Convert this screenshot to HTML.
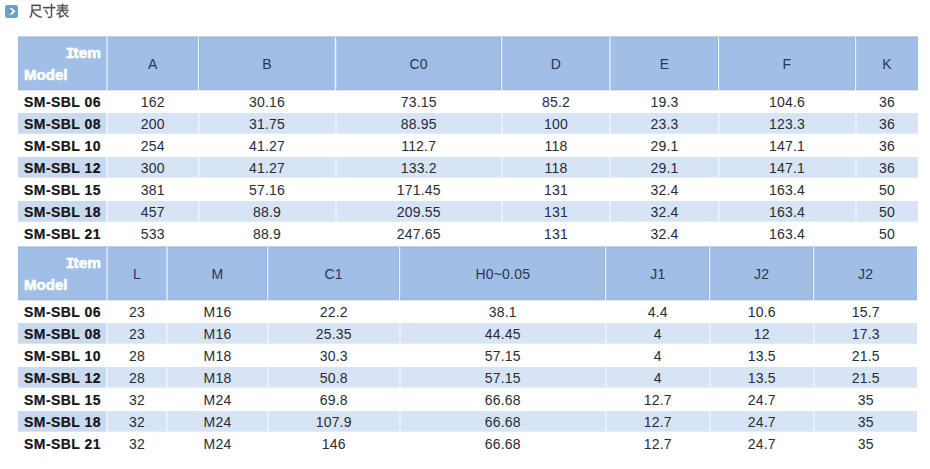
<!DOCTYPE html><html><head><meta charset="utf-8"><title>尺寸表</title><style>
*{margin:0;padding:0;box-sizing:border-box}
html,body{width:930px;height:469px;background:#fff;overflow:hidden}
body{position:relative;font-family:"Liberation Sans",sans-serif;font-size:14px;color:#272c35;letter-spacing:.2px}
.b{position:absolute}
.t{position:absolute;white-space:nowrap;line-height:16px;height:16px}
.c{width:120px;margin-left:-60px;text-align:center}
.m{font-weight:bold;color:#151515;letter-spacing:.45px;-webkit-text-stroke:.2px #151515}
.h{color:#2b3650}
.w{font-weight:bold;color:#fff;-webkit-text-stroke:.5px #fff}
.w i{font-style:normal;font-family:"Liberation Mono",monospace;margin:0 -1.1px 0 -1.2px}
</style></head><body>
<svg class="b" style="left:5px;top:5px" width="13" height="13" viewBox="0 0 13 13"><rect x="0" y="0" width="13" height="13" rx="2.2" fill="#6fa1c4"/><path d="M4.6 3.3h2.4l3.4 3.05-3.4 3.05H4.6l3-3.05z" fill="#fff"/><path d="M4.6 4.3l2.1 2.05-2.1 2.05z" fill="#4f6f88" opacity=".6"/></svg>
<svg class="b" role="img" aria-label="尺寸表" style="left:0;top:0" width="80" height="24" viewBox="0 0 80 24"><g fill="#4f4f4f" stroke="#4f4f4f" stroke-width="26" transform="translate(29.10 16.72) scale(0.01340 -0.01540)"><path transform="translate(0 0)" d="M182 776V500C182 338 170 122 37 -30C54 -39 86 -67 99 -83C201 34 240 194 254 340C390 122 612 -18 913 -74C924 -53 945 -21 962 -3C654 47 424 188 303 401H855V776ZM261 702H777V473H261V499Z"/><path transform="translate(1000 0)" d="M167 414C241 337 319 230 350 159L418 202C385 274 304 378 230 453ZM634 840V627H52V553H634V32C634 8 626 1 602 0C575 0 488 -1 395 2C408 -21 424 -58 429 -82C537 -82 614 -80 655 -67C697 -54 713 -30 713 32V553H949V627H713V840Z"/><path transform="translate(2000 0)" d="M252 -79C275 -64 312 -51 591 38C587 54 581 83 579 104L335 31V251C395 292 449 337 492 385C570 175 710 23 917 -46C928 -26 950 3 967 19C868 48 783 97 714 162C777 201 850 253 908 302L846 346C802 303 732 249 672 207C628 259 592 319 566 385H934V450H536V539H858V601H536V686H902V751H536V840H460V751H105V686H460V601H156V539H460V450H65V385H397C302 300 160 223 36 183C52 168 74 140 86 122C142 142 201 170 258 203V55C258 15 236 -2 219 -11C231 -27 247 -61 252 -79Z"/></g></svg>
<div class="b" style="left:18px;top:36px;width:900px;height:54px;background:#a1bee6"></div>
<div class="b" style="left:18px;top:36px;width:900px;height:1px;background:#c6d2e8"></div>
<div class="b" style="left:18px;top:37px;width:900px;height:1px;background:#a5b5d8"></div>
<div class="b" style="left:18px;top:89px;width:900px;height:1px;background:#a4b4d8"></div>
<div class="b" style="left:18px;top:90px;width:900px;height:1px;background:#e0e9f6"></div>
<div class="b" style="left:18px;top:113px;width:900px;height:21px;background:#d7e4f5"></div>
<div class="b" style="left:18px;top:113px;width:88px;height:21px;background:#c9d9f0"></div>
<div class="b" style="left:18px;top:157px;width:900px;height:21px;background:#d7e4f5"></div>
<div class="b" style="left:18px;top:157px;width:88px;height:21px;background:#c9d9f0"></div>
<div class="b" style="left:18px;top:201px;width:900px;height:21px;background:#d7e4f5"></div>
<div class="b" style="left:18px;top:201px;width:88px;height:21px;background:#c9d9f0"></div>
<div class="b" style="left:106px;top:37px;width:2px;height:53px;background:#cddff6"></div>
<div class="b" style="left:106px;top:113px;width:2px;height:21px;background:#e8f0fa"></div>
<div class="b" style="left:106px;top:157px;width:2px;height:21px;background:#e8f0fa"></div>
<div class="b" style="left:106px;top:201px;width:2px;height:21px;background:#e8f0fa"></div>
<div class="b" style="left:198px;top:37px;width:1px;height:53px;background:#eef5fd"></div>
<div class="b" style="left:199px;top:38px;width:1px;height:51px;background:#9bb3da"></div>
<div class="b" style="left:198px;top:113px;width:2px;height:21px;background:#e8f0fa"></div>
<div class="b" style="left:198px;top:157px;width:2px;height:21px;background:#e8f0fa"></div>
<div class="b" style="left:198px;top:201px;width:2px;height:21px;background:#e8f0fa"></div>
<div class="b" style="left:335px;top:37px;width:1px;height:53px;background:#eef5fd"></div>
<div class="b" style="left:334px;top:38px;width:1px;height:51px;background:#b4cbee"></div>
<div class="b" style="left:336px;top:38px;width:1px;height:51px;background:#b4cbee"></div>
<div class="b" style="left:335px;top:113px;width:2px;height:21px;background:#e8f0fa"></div>
<div class="b" style="left:335px;top:157px;width:2px;height:21px;background:#e8f0fa"></div>
<div class="b" style="left:335px;top:201px;width:2px;height:21px;background:#e8f0fa"></div>
<div class="b" style="left:501px;top:37px;width:1px;height:53px;background:#eef5fd"></div>
<div class="b" style="left:500px;top:38px;width:1px;height:51px;background:#9bb3da"></div>
<div class="b" style="left:502px;top:38px;width:1px;height:51px;background:#a9c4ea"></div>
<div class="b" style="left:501px;top:113px;width:2px;height:21px;background:#e8f0fa"></div>
<div class="b" style="left:501px;top:157px;width:2px;height:21px;background:#e8f0fa"></div>
<div class="b" style="left:501px;top:201px;width:2px;height:21px;background:#e8f0fa"></div>
<div class="b" style="left:609px;top:37px;width:2px;height:53px;background:#cddff6"></div>
<div class="b" style="left:609px;top:113px;width:2px;height:21px;background:#e8f0fa"></div>
<div class="b" style="left:609px;top:157px;width:2px;height:21px;background:#e8f0fa"></div>
<div class="b" style="left:609px;top:201px;width:2px;height:21px;background:#e8f0fa"></div>
<div class="b" style="left:718px;top:37px;width:1px;height:53px;background:#eef5fd"></div>
<div class="b" style="left:717px;top:38px;width:1px;height:51px;background:#9bb3da"></div>
<div class="b" style="left:719px;top:38px;width:1px;height:51px;background:#a9c4ea"></div>
<div class="b" style="left:718px;top:113px;width:2px;height:21px;background:#e8f0fa"></div>
<div class="b" style="left:718px;top:157px;width:2px;height:21px;background:#e8f0fa"></div>
<div class="b" style="left:718px;top:201px;width:2px;height:21px;background:#e8f0fa"></div>
<div class="b" style="left:855px;top:37px;width:1px;height:53px;background:#eef5fd"></div>
<div class="b" style="left:854px;top:38px;width:1px;height:51px;background:#9bb3da"></div>
<div class="b" style="left:856px;top:38px;width:1px;height:51px;background:#a9c4ea"></div>
<div class="b" style="left:855px;top:113px;width:2px;height:21px;background:#e8f0fa"></div>
<div class="b" style="left:855px;top:157px;width:2px;height:21px;background:#e8f0fa"></div>
<div class="b" style="left:855px;top:201px;width:2px;height:21px;background:#e8f0fa"></div>
<div class="b" style="left:18px;top:133px;width:900px;height:1px;background:rgba(255,255,255,.3)"></div>
<div class="b" style="left:18px;top:177px;width:900px;height:1px;background:rgba(255,255,255,.3)"></div>
<div class="b" style="left:18px;top:221px;width:900px;height:1px;background:rgba(255,255,255,.3)"></div>
<div class="t w" style="left:21.1px;top:45px;width:80px;text-align:right;letter-spacing:0;transform:scaleX(1.10);transform-origin:100% 50%"><i>I</i>tem</div>
<div class="t w" style="left:23.5px;top:67px;letter-spacing:0;transform:scaleX(1.075);transform-origin:0 50%">Model</div>
<div class="t c h" style="left:152.7px;top:56px">A</div>
<div class="t c h" style="left:267.0px;top:56px">B</div>
<div class="t c h" style="left:418.7px;top:56px">C0</div>
<div class="t c h" style="left:556.0px;top:56px">D</div>
<div class="t c h" style="left:664.5px;top:56px">E</div>
<div class="t c h" style="left:787.0px;top:56px">F</div>
<div class="t c h" style="left:887.0px;top:56px">K</div>
<div class="t m" style="left:24px;top:94px">SM-SBL 06</div>
<div class="t c" style="left:152.7px;top:94px">162</div>
<div class="t c" style="left:267.0px;top:94px">30.16</div>
<div class="t c" style="left:418.7px;top:94px">73.15</div>
<div class="t c" style="left:556.0px;top:94px">85.2</div>
<div class="t c" style="left:664.5px;top:94px">19.3</div>
<div class="t c" style="left:787.0px;top:94px">104.6</div>
<div class="t c" style="left:887.0px;top:94px">36</div>
<div class="t m" style="left:24px;top:116px">SM-SBL 08</div>
<div class="t c" style="left:152.7px;top:116px">200</div>
<div class="t c" style="left:267.0px;top:116px">31.75</div>
<div class="t c" style="left:418.7px;top:116px">88.95</div>
<div class="t c" style="left:556.0px;top:116px">100</div>
<div class="t c" style="left:664.5px;top:116px">23.3</div>
<div class="t c" style="left:787.0px;top:116px">123.3</div>
<div class="t c" style="left:887.0px;top:116px">36</div>
<div class="t m" style="left:24px;top:138px">SM-SBL 10</div>
<div class="t c" style="left:152.7px;top:138px">254</div>
<div class="t c" style="left:267.0px;top:138px">41.27</div>
<div class="t c" style="left:418.7px;top:138px">112.7</div>
<div class="t c" style="left:556.0px;top:138px">118</div>
<div class="t c" style="left:664.5px;top:138px">29.1</div>
<div class="t c" style="left:787.0px;top:138px">147.1</div>
<div class="t c" style="left:887.0px;top:138px">36</div>
<div class="t m" style="left:24px;top:160px">SM-SBL 12</div>
<div class="t c" style="left:152.7px;top:160px">300</div>
<div class="t c" style="left:267.0px;top:160px">41.27</div>
<div class="t c" style="left:418.7px;top:160px">133.2</div>
<div class="t c" style="left:556.0px;top:160px">118</div>
<div class="t c" style="left:664.5px;top:160px">29.1</div>
<div class="t c" style="left:787.0px;top:160px">147.1</div>
<div class="t c" style="left:887.0px;top:160px">36</div>
<div class="t m" style="left:24px;top:182px">SM-SBL 15</div>
<div class="t c" style="left:152.7px;top:182px">381</div>
<div class="t c" style="left:267.0px;top:182px">57.16</div>
<div class="t c" style="left:418.7px;top:182px">171.45</div>
<div class="t c" style="left:556.0px;top:182px">131</div>
<div class="t c" style="left:664.5px;top:182px">32.4</div>
<div class="t c" style="left:787.0px;top:182px">163.4</div>
<div class="t c" style="left:887.0px;top:182px">50</div>
<div class="t m" style="left:24px;top:204px">SM-SBL 18</div>
<div class="t c" style="left:152.7px;top:204px">457</div>
<div class="t c" style="left:267.0px;top:204px">88.9</div>
<div class="t c" style="left:418.7px;top:204px">209.55</div>
<div class="t c" style="left:556.0px;top:204px">131</div>
<div class="t c" style="left:664.5px;top:204px">32.4</div>
<div class="t c" style="left:787.0px;top:204px">163.4</div>
<div class="t c" style="left:887.0px;top:204px">50</div>
<div class="t m" style="left:24px;top:226px">SM-SBL 21</div>
<div class="t c" style="left:152.7px;top:226px">533</div>
<div class="t c" style="left:267.0px;top:226px">88.9</div>
<div class="t c" style="left:418.7px;top:226px">247.65</div>
<div class="t c" style="left:556.0px;top:226px">131</div>
<div class="t c" style="left:664.5px;top:226px">32.4</div>
<div class="t c" style="left:787.0px;top:226px">163.4</div>
<div class="t c" style="left:887.0px;top:226px">50</div>
<div class="b" style="left:18px;top:246px;width:899px;height:54px;background:#a1bee6"></div>
<div class="b" style="left:18px;top:246px;width:899px;height:1px;background:#c6d2e8"></div>
<div class="b" style="left:18px;top:247px;width:899px;height:1px;background:#a5b5d8"></div>
<div class="b" style="left:18px;top:299px;width:899px;height:1px;background:#a4b4d8"></div>
<div class="b" style="left:18px;top:300px;width:899px;height:1px;background:#e0e9f6"></div>
<div class="b" style="left:18px;top:323px;width:899px;height:21px;background:#d7e4f5"></div>
<div class="b" style="left:18px;top:323px;width:88px;height:21px;background:#c9d9f0"></div>
<div class="b" style="left:18px;top:367px;width:899px;height:21px;background:#d7e4f5"></div>
<div class="b" style="left:18px;top:367px;width:88px;height:21px;background:#c9d9f0"></div>
<div class="b" style="left:18px;top:411px;width:899px;height:21px;background:#d7e4f5"></div>
<div class="b" style="left:18px;top:411px;width:88px;height:21px;background:#c9d9f0"></div>
<div class="b" style="left:106px;top:247px;width:2px;height:53px;background:#cddff6"></div>
<div class="b" style="left:106px;top:323px;width:2px;height:21px;background:#e8f0fa"></div>
<div class="b" style="left:106px;top:367px;width:2px;height:21px;background:#e8f0fa"></div>
<div class="b" style="left:106px;top:411px;width:2px;height:21px;background:#e8f0fa"></div>
<div class="b" style="left:166px;top:247px;width:2px;height:53px;background:#cddff6"></div>
<div class="b" style="left:166px;top:323px;width:2px;height:21px;background:#e8f0fa"></div>
<div class="b" style="left:166px;top:367px;width:2px;height:21px;background:#e8f0fa"></div>
<div class="b" style="left:166px;top:411px;width:2px;height:21px;background:#e8f0fa"></div>
<div class="b" style="left:267px;top:247px;width:1px;height:53px;background:#eef5fd"></div>
<div class="b" style="left:266px;top:248px;width:1px;height:51px;background:#9bb3da"></div>
<div class="b" style="left:268px;top:248px;width:1px;height:51px;background:#a9c4ea"></div>
<div class="b" style="left:267px;top:323px;width:2px;height:21px;background:#e8f0fa"></div>
<div class="b" style="left:267px;top:367px;width:2px;height:21px;background:#e8f0fa"></div>
<div class="b" style="left:267px;top:411px;width:2px;height:21px;background:#e8f0fa"></div>
<div class="b" style="left:399px;top:247px;width:1px;height:53px;background:#eef5fd"></div>
<div class="b" style="left:398px;top:248px;width:1px;height:51px;background:#9bb3da"></div>
<div class="b" style="left:400px;top:248px;width:1px;height:51px;background:#a9c4ea"></div>
<div class="b" style="left:399px;top:323px;width:2px;height:21px;background:#e8f0fa"></div>
<div class="b" style="left:399px;top:367px;width:2px;height:21px;background:#e8f0fa"></div>
<div class="b" style="left:399px;top:411px;width:2px;height:21px;background:#e8f0fa"></div>
<div class="b" style="left:605px;top:247px;width:1px;height:53px;background:#eef5fd"></div>
<div class="b" style="left:604px;top:248px;width:1px;height:51px;background:#9bb3da"></div>
<div class="b" style="left:606px;top:248px;width:1px;height:51px;background:#a9c4ea"></div>
<div class="b" style="left:605px;top:323px;width:2px;height:21px;background:#e8f0fa"></div>
<div class="b" style="left:605px;top:367px;width:2px;height:21px;background:#e8f0fa"></div>
<div class="b" style="left:605px;top:411px;width:2px;height:21px;background:#e8f0fa"></div>
<div class="b" style="left:709px;top:247px;width:1px;height:53px;background:#eef5fd"></div>
<div class="b" style="left:708px;top:248px;width:1px;height:51px;background:#9bb3da"></div>
<div class="b" style="left:710px;top:248px;width:1px;height:51px;background:#a9c4ea"></div>
<div class="b" style="left:709px;top:323px;width:2px;height:21px;background:#e8f0fa"></div>
<div class="b" style="left:709px;top:367px;width:2px;height:21px;background:#e8f0fa"></div>
<div class="b" style="left:709px;top:411px;width:2px;height:21px;background:#e8f0fa"></div>
<div class="b" style="left:813px;top:247px;width:1px;height:53px;background:#eef5fd"></div>
<div class="b" style="left:812px;top:248px;width:1px;height:51px;background:#9bb3da"></div>
<div class="b" style="left:814px;top:248px;width:1px;height:51px;background:#a9c4ea"></div>
<div class="b" style="left:813px;top:323px;width:2px;height:21px;background:#e8f0fa"></div>
<div class="b" style="left:813px;top:367px;width:2px;height:21px;background:#e8f0fa"></div>
<div class="b" style="left:813px;top:411px;width:2px;height:21px;background:#e8f0fa"></div>
<div class="b" style="left:18px;top:343px;width:899px;height:1px;background:rgba(255,255,255,.3)"></div>
<div class="b" style="left:18px;top:387px;width:899px;height:1px;background:rgba(255,255,255,.3)"></div>
<div class="b" style="left:18px;top:431px;width:899px;height:1px;background:rgba(255,255,255,.3)"></div>
<div class="t w" style="left:21.1px;top:255px;width:80px;text-align:right;letter-spacing:0;transform:scaleX(1.10);transform-origin:100% 50%"><i>I</i>tem</div>
<div class="t w" style="left:23.5px;top:277px;letter-spacing:0;transform:scaleX(1.075);transform-origin:0 50%">Model</div>
<div class="t c h" style="left:137.0px;top:266px">L</div>
<div class="t c h" style="left:217.5px;top:266px">M</div>
<div class="t c h" style="left:333.7px;top:266px">C1</div>
<div class="t c h" style="left:502.8px;top:266px">H0~0.05</div>
<div class="t c h" style="left:657.8px;top:266px">J1</div>
<div class="t c h" style="left:761.7px;top:266px">J2</div>
<div class="t c h" style="left:865.7px;top:266px">J2</div>
<div class="t m" style="left:24px;top:304px">SM-SBL 06</div>
<div class="t c" style="left:137.0px;top:304px">23</div>
<div class="t c" style="left:217.5px;top:304px">M16</div>
<div class="t c" style="left:333.7px;top:304px">22.2</div>
<div class="t c" style="left:502.8px;top:304px">38.1</div>
<div class="t c" style="left:657.8px;top:304px">4.4</div>
<div class="t c" style="left:761.7px;top:304px">10.6</div>
<div class="t c" style="left:865.7px;top:304px">15.7</div>
<div class="t m" style="left:24px;top:326px">SM-SBL 08</div>
<div class="t c" style="left:137.0px;top:326px">23</div>
<div class="t c" style="left:217.5px;top:326px">M16</div>
<div class="t c" style="left:333.7px;top:326px">25.35</div>
<div class="t c" style="left:502.8px;top:326px">44.45</div>
<div class="t c" style="left:657.8px;top:326px">4</div>
<div class="t c" style="left:761.7px;top:326px">12</div>
<div class="t c" style="left:865.7px;top:326px">17.3</div>
<div class="t m" style="left:24px;top:348px">SM-SBL 10</div>
<div class="t c" style="left:137.0px;top:348px">28</div>
<div class="t c" style="left:217.5px;top:348px">M18</div>
<div class="t c" style="left:333.7px;top:348px">30.3</div>
<div class="t c" style="left:502.8px;top:348px">57.15</div>
<div class="t c" style="left:657.8px;top:348px">4</div>
<div class="t c" style="left:761.7px;top:348px">13.5</div>
<div class="t c" style="left:865.7px;top:348px">21.5</div>
<div class="t m" style="left:24px;top:370px">SM-SBL 12</div>
<div class="t c" style="left:137.0px;top:370px">28</div>
<div class="t c" style="left:217.5px;top:370px">M18</div>
<div class="t c" style="left:333.7px;top:370px">50.8</div>
<div class="t c" style="left:502.8px;top:370px">57.15</div>
<div class="t c" style="left:657.8px;top:370px">4</div>
<div class="t c" style="left:761.7px;top:370px">13.5</div>
<div class="t c" style="left:865.7px;top:370px">21.5</div>
<div class="t m" style="left:24px;top:392px">SM-SBL 15</div>
<div class="t c" style="left:137.0px;top:392px">32</div>
<div class="t c" style="left:217.5px;top:392px">M24</div>
<div class="t c" style="left:333.7px;top:392px">69.8</div>
<div class="t c" style="left:502.8px;top:392px">66.68</div>
<div class="t c" style="left:657.8px;top:392px">12.7</div>
<div class="t c" style="left:761.7px;top:392px">24.7</div>
<div class="t c" style="left:865.7px;top:392px">35</div>
<div class="t m" style="left:24px;top:414px">SM-SBL 18</div>
<div class="t c" style="left:137.0px;top:414px">32</div>
<div class="t c" style="left:217.5px;top:414px">M24</div>
<div class="t c" style="left:333.7px;top:414px">107.9</div>
<div class="t c" style="left:502.8px;top:414px">66.68</div>
<div class="t c" style="left:657.8px;top:414px">12.7</div>
<div class="t c" style="left:761.7px;top:414px">24.7</div>
<div class="t c" style="left:865.7px;top:414px">35</div>
<div class="t m" style="left:24px;top:436px">SM-SBL 21</div>
<div class="t c" style="left:137.0px;top:436px">32</div>
<div class="t c" style="left:217.5px;top:436px">M24</div>
<div class="t c" style="left:333.7px;top:436px">146</div>
<div class="t c" style="left:502.8px;top:436px">66.68</div>
<div class="t c" style="left:657.8px;top:436px">12.7</div>
<div class="t c" style="left:761.7px;top:436px">24.7</div>
<div class="t c" style="left:865.7px;top:436px">35</div>
</body></html>
